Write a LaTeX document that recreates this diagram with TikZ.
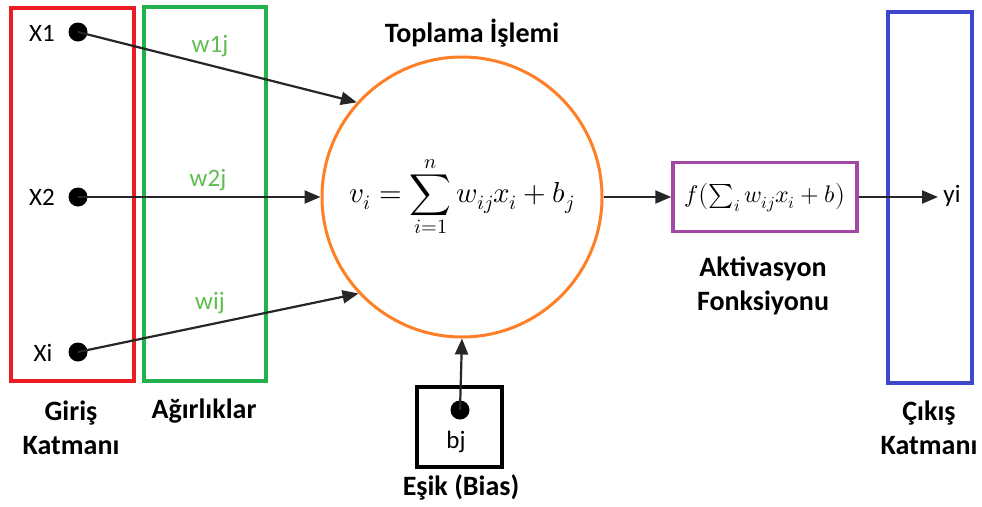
\documentclass[tikz,border=0pt]{standalone}
\usepackage{fontspec}
\usepackage{unicode-math}
\setmainfont{Carlito}
\setmathfont{Latin Modern Math}
\usetikzlibrary{arrows.meta}
\definecolor{pred}{RGB}{237,28,36}
\definecolor{pgreen}{RGB}{34,177,76}
\definecolor{wgreen}{RGB}{96,190,80}
\definecolor{pblue}{RGB}{63,72,204}
\definecolor{porange}{RGB}{255,127,39}
\definecolor{ppurple}{RGB}{163,73,164}
\begin{document}
\begin{tikzpicture}[x=1pt,y=-1pt,
  lab/.style={font=\fontsize{25}{30}\selectfont, inner sep=0, anchor=base},
  wlab/.style={lab, text=wgreen},
  blab/.style={font=\fontsize{28}{34}\selectfont\bfseries, align=center, inner sep=0},
  dot/.style={circle, fill=black, minimum size=19, inner sep=0},
  arr/.style={draw=black!85, line width=2.2, -{Triangle[length=16,width=13]}},
  layer/.style={line width=3.5}]
\useasboundingbox[fill=white] (0,0) rectangle (982,506);
% layer boxes
\draw[layer, draw=pred] (11,8) rectangle (134,381);
\draw[layer, draw=pgreen] (144,7) rectangle (266,381);
\draw[layer, draw=pblue] (888,12) rectangle (972,383);
% summation circle
\node[circle, draw=porange, line width=3, minimum size=280, inner sep=0] (sum) at (462,197)
  {\fontsize{29}{33}\selectfont$\displaystyle v_i=\sum_{i=1}^{n} w_{ij}x_i+b_j$};
\node[font=\fontsize{28}{32}\selectfont\bfseries, inner sep=0, anchor=base] (ttl) at (472,42) {Toplama İşlemi};
% inputs
\node[dot] (x1) at (78,32) {};
\node[dot] (x2) at (78,197) {};
\node[dot] (xi) at (78,352) {};
\node[lab] (lx1) at (42,41) {X1};
\node[lab] (lx2) at (42,205) {X2};
\node[lab] (lxi) at (43,361) {Xi};
\node[wlab] (w1) at (210,52) {w1j};
\node[wlab] (w2) at (208,186) {w2j};
\node[wlab] (wi) at (210,309) {wij};
\draw[arr] (x1.center) -- (sum.138.5);
\draw[arr] (x2.center) -- (sum.west);
\draw[arr] (xi.center) -- (sum.223.9);
% activation
\node[draw=ppurple, line width=3.5, minimum width=184, minimum height=69, inner sep=0] (act) at (765,197)
  {\fontsize{24}{28}\selectfont$f\bigl(\sum_i w_{ij}x_i+b\bigr)$};
\draw[arr] (sum.east) -- (act.west);
\node[lab] (yi) at (952,202) {yi};
\coordinate (yin) at (938,197);
\draw[arr] (act.east) -- (yin);
\node[blab] (actl) at (763,286) {Aktivasyon\\Fonksiyonu};
% bias
\node[draw=black, line width=4, minimum width=85, minimum height=80, inner sep=0] (bbox) at (459.5,427) {};
\node[dot] (bdot) at (460,410) {};
\node[lab] (bj) at (456,448) {bj};
\draw[arr] (bdot.center) -- (sum.south);
\node[blab, anchor=base] (eslab) at (461,495) {Eşik (Bias)};
% bottom labels
\node[blab] (giris) at (71,428) {Giriş\\Katmanı};
\node[blab, anchor=base] (agir) at (204,418) {Ağırlıklar};
\node[blab] (cikis) at (929,428) {Çıkış\\Katmanı};
\end{tikzpicture}
\end{document}
